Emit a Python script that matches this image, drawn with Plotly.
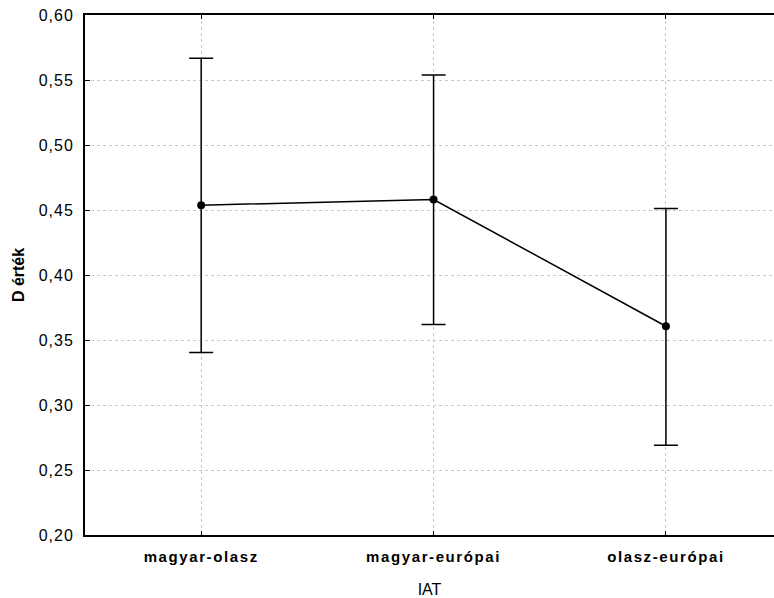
import plotly.graph_objects as go

categories = ["magyar-olasz", "magyar-európai", "olasz-európai"]
means = [0.4537, 0.4581, 0.3606]
upper = [0.5667, 0.5538, 0.4512]
lower = [0.3404, 0.3619, 0.2690]
y_ticks = [0.20, 0.25, 0.30, 0.35, 0.40, 0.45, 0.50, 0.55, 0.60]

x_idx = list(range(len(categories)))
err_plus = [u - m for u, m in zip(upper, means)]
err_minus = [m - l for m, l in zip(means, lower)]

FONT = "Liberation Sans, Arial, sans-serif"

fig = go.Figure()
fig.add_trace(go.Scatter(
    x=x_idx, y=means, mode="lines+markers",
    line=dict(color="black", width=1.5),
    marker=dict(color="black", size=8),
    error_y=dict(type="data", symmetric=False, array=err_plus, arrayminus=err_minus,
                 color="black", thickness=1.5, width=12),
    showlegend=False,
))

grid = dict(showgrid=True, gridcolor="#c8c8c8", griddash="dot", gridwidth=1)

fig.update_layout(
    width=774, height=598,
    margin=dict(l=85, r=0, t=15, b=63, autoexpand=False),
    paper_bgcolor="white", plot_bgcolor="white",
    separators=",.",
    font=dict(family=FONT, color="black", size=15),
    xaxis=dict(
        range=[-0.5, 2.465], tickmode="array", tickvals=x_idx, ticktext=categories,
        ticks="inside", ticklen=4, tickcolor="black", tickwidth=1,
        showline=True, linecolor="black", linewidth=2, mirror="ticks",
        tickfont=dict(family=FONT, size=15, weight="bold"),
        ticklabelstandoff=7,
        title=dict(text="IAT", font=dict(family=FONT, size=16), standoff=24),
        zeroline=False, automargin=False, **grid,
    ),
    yaxis=dict(
        range=[0.20, 0.60], tickmode="array", tickvals=y_ticks, tickformat=".2f",
        ticks="inside", ticklen=5, tickcolor="black", tickwidth=1,
        showline=True, linecolor="black", linewidth=2, mirror=True,
        tickfont=dict(family=FONT, size=16),
        ticklabelstandoff=6,
        title=dict(text="D érték", font=dict(family=FONT, size=16, weight="bold"), standoff=14),
        zeroline=False, automargin=False, **grid,
    ),
)

post = """
document.body.style.margin = '0';
document.body.style.overflow = 'hidden';
function sp(){
  document.querySelectorAll('.xtick text').forEach(function(t){t.style.letterSpacing='1.6px';});
  document.querySelectorAll('.ytick text').forEach(function(t){t.style.letterSpacing='1px';});
}
sp();
var gd = document.getElementsByClassName('plotly-graph-div')[0];
if (gd && gd.on) { gd.on('plotly_afterplot', sp); }
"""

fig.write_html("out.html", post_script=post, config={"displayModeBar": False})
